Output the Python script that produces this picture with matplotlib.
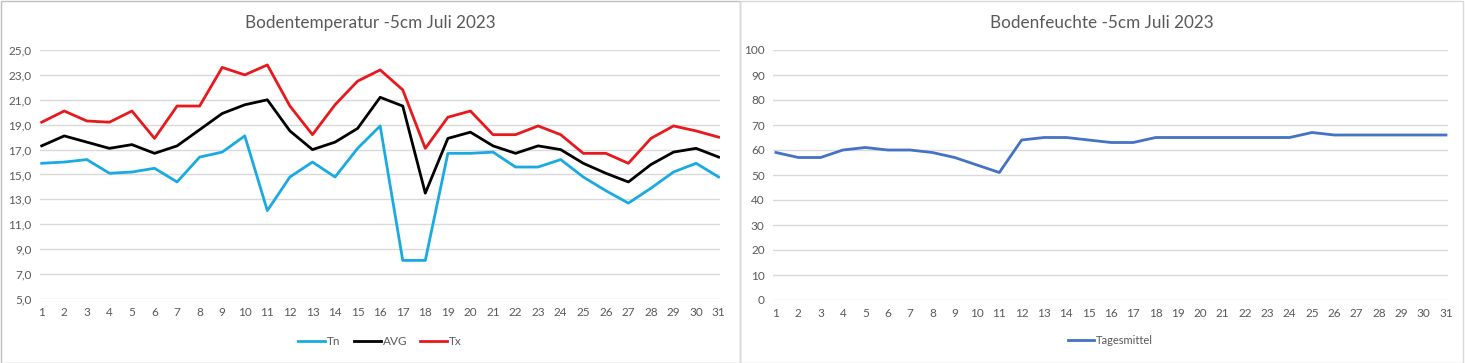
import matplotlib
matplotlib.use('Agg')
import matplotlib.pyplot as plt
from matplotlib.patches import Rectangle
from matplotlib.ticker import FuncFormatter

plt.rcParams['font.family'] = ['Lato', 'DejaVu Sans']

tage = list(range(1, 32))

# Bodentemperatur -5cm
tn = [15.9, 16.0, 16.2, 15.1, 15.2, 15.5, 14.4, 16.4, 16.8, 18.1, 12.1, 14.8, 16.0, 14.8, 17.1, 18.9,
      8.1, 8.1, 16.7, 16.7, 16.8, 15.6, 15.6, 16.2, 14.8, 13.7, 12.7, 13.9, 15.2, 15.9, 14.8]
avg = [17.3, 18.1, 17.6, 17.1, 17.4, 16.7, 17.3, 18.6, 19.9, 20.6, 21.0, 18.5, 17.0, 17.6, 18.7, 21.2,
       20.5, 13.5, 17.9, 18.4, 17.3, 16.7, 17.3, 17.0, 15.9, 15.1, 14.4, 15.8, 16.8, 17.1, 16.4]
tx = [19.2, 20.1, 19.3, 19.2, 20.1, 17.9, 20.5, 20.5, 23.6, 23.0, 23.8, 20.5, 18.2, 20.6, 22.5, 23.4,
      21.8, 17.1, 19.6, 20.1, 18.2, 18.2, 18.9, 18.2, 16.7, 16.7, 15.9, 17.9, 18.9, 18.5, 18.0]

# Bodenfeuchte -5cm
tagesmittel = [59, 57, 57, 60, 61, 60, 60, 59, 57, 54, 51, 64, 65, 65, 64, 63,
               63, 65, 65, 65, 65, 65, 65, 65, 67, 66, 66, 66, 66, 66, 66]

W, H = 1465, 363
fig = plt.figure(figsize=(W / 100, H / 100), dpi=100)
txt = '#595959'
grid = '#d9d9d9'

# Rahmen der beiden Diagramme
fig.patches.append(Rectangle((0.5 / W, 0.5 / H), 739.5 / W, 361.5 / H, transform=fig.transFigure,
                             fill=False, edgecolor='#bfbfbf', lw=1))
fig.patches.append(Rectangle((740.5 / W, 0.5 / H), 722.5 / W, 361.5 / H, transform=fig.transFigure,
                             fill=False, edgecolor='#d9d9d9', lw=1))


def style(ax):
    for s in ax.spines.values():
        s.set_visible(False)
    ax.grid(axis='y', color=grid, lw=1)
    ax.set_axisbelow(True)
    ax.tick_params(length=0, labelsize=8.5, colors=txt, pad=6)
    ax.set_xticks(tage)


ax1 = fig.add_axes([40 / W, 64 / H, 680 / W, 249 / H])
ax1.plot(tage, tn, color='#1aaae2', lw=2, label='Tn')
ax1.plot(tage, avg, color='black', lw=2, label='AVG')
ax1.plot(tage, tx, color='#e8181c', lw=2, label='Tx')
ax1.set_xlim(0.925, 31.06)
ax1.set_ylim(5, 25)
ax1.set_yticks(range(5, 26, 2))
ax1.yaxis.set_major_formatter(FuncFormatter(lambda v, p: f'{v:.1f}'.replace('.', ',')))
style(ax1)
fig.text(370 / W, 1 - 23 / H, 'Bodentemperatur -5cm Juli 2023', fontsize=12.3, color=txt,
         ha='center', va='center')
ax1.legend(loc='upper center', bbox_to_anchor=(0.5, -0.105), ncol=3, frameon=False,
           fontsize=8.5, labelcolor=txt, handlelength=2.3, handletextpad=0.15, columnspacing=1.1)

ax2 = fig.add_axes([773 / W, 63 / H, 675 / W, 250 / H])
ax2.plot(tage, tagesmittel, color='#4472c4', lw=2, label='Tagesmittel')
ax2.set_xlim(0.866, 31.09)
ax2.set_ylim(0, 100)
ax2.set_yticks(range(0, 101, 10))
style(ax2)
fig.text(1102 / W, 1 - 23 / H, 'Bodenfeuchte -5cm Juli 2023', fontsize=12.3, color=txt,
         ha='center', va='center')
ax2.legend(loc='upper center', bbox_to_anchor=(0.5, -0.1), frameon=False,
           fontsize=8, labelcolor=txt, handlelength=2.3, handletextpad=0.15)

fig.savefig('out.png', dpi=100)
